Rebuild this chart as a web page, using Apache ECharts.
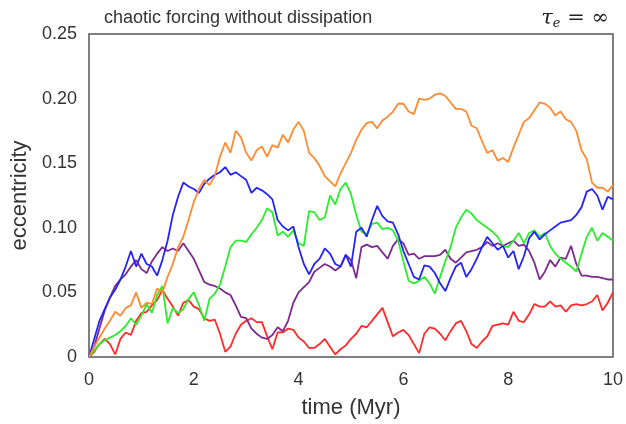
<!DOCTYPE html>
<html>
<head>
<meta charset="utf-8">
<script src="https://cdn.jsdelivr.net/npm/echarts@6/dist/echarts.min.js"></script>
<style>html,body{margin:0;padding:0;background:#fff}#c{width:626px;height:424px}</style>
</head>
<body>
<div id="c"></div>
<script>
// sample grid: 0 .. 10 Myr, step 0.1
var tStep = 0.1;
var nPts = 101;
var xTicks = [0, 2, 4, 6, 8, 10];
var yTicks = [0, 0.05, 0.10, 0.15, 0.20, 0.25];

var orange = [0,0.008,0.015,0.022,0.028,0.035,0.032,0.038,0.040,0.050,
0.038,0.042,0.041,0.053,0.050,0.062,0.072,0.085,0.093,0.106,
0.120,0.130,0.137,0.133,0.140,0.155,0.166,0.158,0.175,0.170,
0.158,0.152,0.160,0.163,0.155,0.164,0.162,0.172,0.166,0.176,
0.182,0.175,0.158,0.154,0.148,0.140,0.136,0.132,0.142,0.150,
0.158,0.168,0.176,0.181,0.182,0.177,0.183,0.186,0.190,0.196,
0.196,0.190,0.188,0.200,0.199,0.200,0.203,0.204,0.202,0.197,
0.192,0.192,0.190,0.179,0.177,0.167,0.158,0.160,0.152,0.154,
0.151,0.162,0.172,0.182,0.185,0.191,0.197,0.196,0.193,0.187,
0.190,0.184,0.182,0.175,0.160,0.153,0.135,0.131,0.131,0.128,0.133];

var blue = [0,0.014,0.028,0.037,0.046,0.052,0.060,0.070,0.082,0.070,
0.080,0.072,0.070,0.063,0.075,0.090,0.110,0.124,0.135,0.132,
0.130,0.127,0.134,0.138,0.141,0.143,0.147,0.141,0.143,0.140,
0.137,0.127,0.131,0.129,0.126,0.122,0.106,0.101,0.098,0.101,
0.085,0.072,0.064,0.072,0.076,0.084,0.080,0.072,0.070,0.079,
0.070,0.097,0.100,0.093,0.106,0.117,0.109,0.105,0.104,0.095,
0.082,0.072,0.062,0.060,0.071,0.070,0.065,0.057,0.051,0.061,
0.070,0.073,0.062,0.068,0.076,0.085,0.093,0.088,0.083,0.086,
0.077,0.082,0.068,0.078,0.092,0.097,0.091,0.095,0.098,0.101,
0.104,0.105,0.106,0.110,0.116,0.128,0.130,0.125,0.114,0.124,0.122];

var green = [0,0.005,0.010,0.013,0.015,0.017,0.020,0.024,0.030,0.025,
0.032,0.041,0.034,0.048,0.055,0.026,0.038,0.034,0.037,0.045,
0.050,0.040,0.028,0.045,0.049,0.056,0.070,0.085,0.090,0.090,
0.089,0.095,0.100,0.106,0.115,0.112,0.094,0.097,0.093,0.098,
0.088,0.086,0.113,0.112,0.106,0.108,0.125,0.118,0.130,0.135,
0.126,0.110,0.097,0.095,0.103,0.104,0.099,0.100,0.098,0.090,
0.074,0.059,0.057,0.059,0.062,0.057,0.049,0.062,0.074,0.085,
0.100,0.108,0.114,0.111,0.106,0.103,0.100,0.097,0.093,0.086,
0.085,0.090,0.096,0.088,0.096,0.098,0.093,0.096,0.086,0.080,
0.076,0.073,0.070,0.066,0.080,0.093,0.100,0.090,0.096,0.093,0.090];

var purple = [0,0.008,0.022,0.036,0.046,0.055,0.060,0.064,0.070,0.075,
0.068,0.065,0.074,0.080,0.085,0.082,0.084,0.082,0.088,0.082,
0.076,0.067,0.058,0.056,0.055,0.053,0.050,0.048,0.040,0.031,
0.030,0.022,0.018,0.015,0.014,0.017,0.023,0.020,0.028,0.042,
0.050,0.054,0.058,0.066,0.069,0.072,0.070,0.067,0.070,0.079,
0.075,0.061,0.085,0.087,0.085,0.086,0.081,0.076,0.086,0.091,
0.088,0.079,0.080,0.076,0.078,0.078,0.078,0.079,0.083,0.076,
0.073,0.077,0.081,0.082,0.083,0.085,0.089,0.086,0.088,0.086,
0.088,0.090,0.086,0.087,0.082,0.073,0.060,0.066,0.075,0.070,
0.077,0.076,0.086,0.072,0.063,0.063,0.062,0.062,0.061,0.060,0.060];

var red = [0,0.004,0.010,0.014,0.010,0.002,0.014,0.019,0.017,0.028,
0.034,0.035,0.040,0.044,0.052,0.045,0.039,0.032,0.042,0.044,
0.039,0.037,0.030,0.028,0.029,0.018,0.004,0.008,0.018,0.025,
0.028,0.030,0.027,0.027,0.016,0.006,0.019,0.019,0.022,0.021,
0.015,0.012,0.007,0.007,0.010,0.014,0.008,0.002,0.006,0.009,
0.014,0.018,0.024,0.023,0.028,0.033,0.038,0.027,0.016,0.019,
0.021,0.017,0.010,0.003,0.018,0.023,0.022,0.018,0.013,0.020,
0.026,0.028,0.020,0.010,0.007,0.012,0.016,0.024,0.025,0.026,
0.025,0.035,0.028,0.027,0.033,0.041,0.039,0.039,0.043,0.039,
0.040,0.035,0.040,0.041,0.040,0.041,0.043,0.048,0.036,0.042,0.050];

var times = [];
for (var i = 0; i < nPts; i++) times.push(+(i * tStep).toFixed(2));
function pairs(vals) { return vals.map(function (v, i) { return [times[i], v]; }); }

var seriesDefs = [
  { name: 'red', data: red, color: '#ff2a2a' },
  { name: 'purple', data: purple, color: '#7d2a90' },
  { name: 'green', data: green, color: '#2ced2c' },
  { name: 'blue', data: blue, color: '#2424f5' },
  { name: 'orange', data: orange, color: '#ff8a30' }
];

var chart = echarts.init(document.getElementById('c'));
var FONT = 'Liberation Sans, Arial, sans-serif';
chart.setOption({
  animation: false,
  backgroundColor: '#ffffff',
  title: [
    { text: 'chaotic forcing without dissipation', left: 99, top: 4,
      textStyle: { fontFamily: FONT, fontSize: 18, fontWeight: 'normal', color: '#333' } },
    { text: '{t|τ}{s|e}{n| = ∞}', right: 12, top: 3,
      textStyle: { fontWeight: 'normal', rich: {
        t: { fontFamily: 'DejaVu Serif, serif', fontStyle: 'italic', fontWeight: 'normal', fontSize: 21, color: '#222' },
        s: { fontFamily: 'DejaVu Serif, serif', fontStyle: 'italic', fontWeight: 'normal', fontSize: 13, color: '#222', verticalAlign: 'bottom', padding: [9, 0, 0, 0] },
        n: { fontFamily: 'DejaVu Serif, serif', fontWeight: 'normal', fontSize: 21, color: '#222' }
      } } }
  ],
  grid: { left: 89, right: 12, top: 34, bottom: 66, show: true, borderColor: '#555', borderWidth: 1.5, backgroundColor: 'transparent' },
  xAxis: {
    type: 'value', min: 0, max: 10, interval: 2,
    name: 'time (Myr)', nameLocation: 'middle', nameGap: 40,
    nameTextStyle: { fontFamily: FONT, fontSize: 22, color: '#333' },
    axisLine: { show: false }, axisTick: { show: false }, splitLine: { show: false },
    axisLabel: { fontFamily: FONT, fontSize: 18, color: '#333', margin: 14,
      formatter: function (v) { return xTicks.indexOf(v) >= 0 ? String(v) : ''; } }
  },
  yAxis: {
    type: 'value', min: 0, max: 0.25, interval: 0.05,
    name: 'eccentricity', nameLocation: 'middle', nameGap: 56, nameRotate: 90,
    nameTextStyle: { fontFamily: FONT, fontSize: 22, color: '#333' },
    axisLine: { show: false }, axisTick: { show: false }, splitLine: { show: false },
    axisLabel: { fontFamily: FONT, fontSize: 18, color: '#333', margin: 12,
      formatter: function (v) {
        var r = Math.round(v * 100) / 100;
        for (var k = 0; k < yTicks.length; k++) {
          if (Math.abs(yTicks[k] - r) < 1e-9) return r === 0 ? '0' : r.toFixed(2);
        }
        return '';
      } }
  },
  series: seriesDefs.map(function (s) {
    return { name: s.name, type: 'line', data: pairs(s.data), showSymbol: false, smooth: false,
      lineStyle: { color: s.color, width: 1.8 }, itemStyle: { color: s.color } };
  })
});
</script>
</body>
</html>
